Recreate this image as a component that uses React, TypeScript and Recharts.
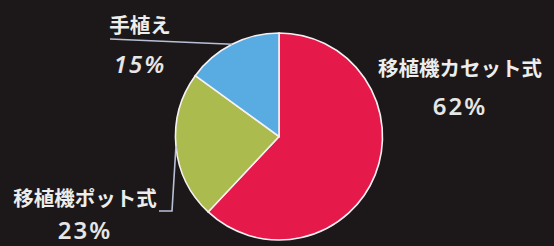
import React from 'react';
import { PieChart, Pie, Cell } from 'recharts';

// 田植え方式の割合
const methods = ['移植機カセット式', '移植機ポット式', '手植え'];
const shares = [62, 23, 15];
const colors = ['#e6194b', '#abbb4e', '#58ace2'];

const data = methods.map((name, i) => ({ name, value: shares[i] }));

// label placement (text centre x, name centre y, percent baseline y, italic, leader path)
const labelLayout = [
  { x: 460, nameY: 67, pctY: 115, italic: false, leader: [] as number[][] },
  { x: 85, nameY: 197, pctY: 239, italic: false, leader: [[172, 211], [159, 211]] },
  { x: 140, nameY: 24, pctY: 73, italic: true, leader: [[110, 39]] },
];

const RAD = Math.PI / 180;

const renderLabel = (props: any) => {
  const { cx, cy, midAngle, outerRadius, index, name, value } = props;
  const l = labelLayout[index];
  const ex = cx + outerRadius * Math.cos(-midAngle * RAD);
  const ey = cy + outerRadius * Math.sin(-midAngle * RAD);
  const pts = [[ex, ey], ...l.leader];
  return (
    <g>
      {l.leader.length > 0 && (
        <polyline
          points={pts.map(p => p.join(',')).join(' ')}
          fill="none"
          stroke="#b9c0d6"
          strokeWidth={1.6}
        />
      )}
      <text
        x={l.x}
        y={l.nameY}
        textAnchor="middle"
        dominantBaseline="central"
        fill="#ededed"
        fontSize={20.5}
        fontWeight={700}
        fontFamily="'Noto Sans CJK JP', sans-serif"
      >
        {name}
      </text>
      <text
        x={l.x}
        y={l.pctY}
        textAnchor="middle"
        fill="#e6e6e6"
        fontSize={24}
        fontWeight={600}
        fontStyle={l.italic ? 'italic' : 'normal'}
        letterSpacing={2}
        fontFamily="'Noto Sans', sans-serif"
      >
        {value}%
      </text>
    </g>
  );
};

export default function App() {
  return (
    <div style={{ position: 'fixed', top: 0, left: 0, width: 554, height: 246, background: '#1c1819', overflow: 'hidden' }}>
      <PieChart width={554} height={246} margin={{ top: 0, right: 0, bottom: 0, left: 0 }}>
        <Pie
          data={data}
          dataKey="value"
          nameKey="name"
          cx={279}
          cy={136.5}
          outerRadius={103.5}
          startAngle={90}
          endAngle={-270}
          stroke="#f6f0f2"
          strokeWidth={1.6}
          label={renderLabel}
          labelLine={false}
          isAnimationActive={false}
        >
          {data.map((d, i) => (
            <Cell key={d.name} fill={colors[i]} />
          ))}
        </Pie>
      </PieChart>
    </div>
  );
}
